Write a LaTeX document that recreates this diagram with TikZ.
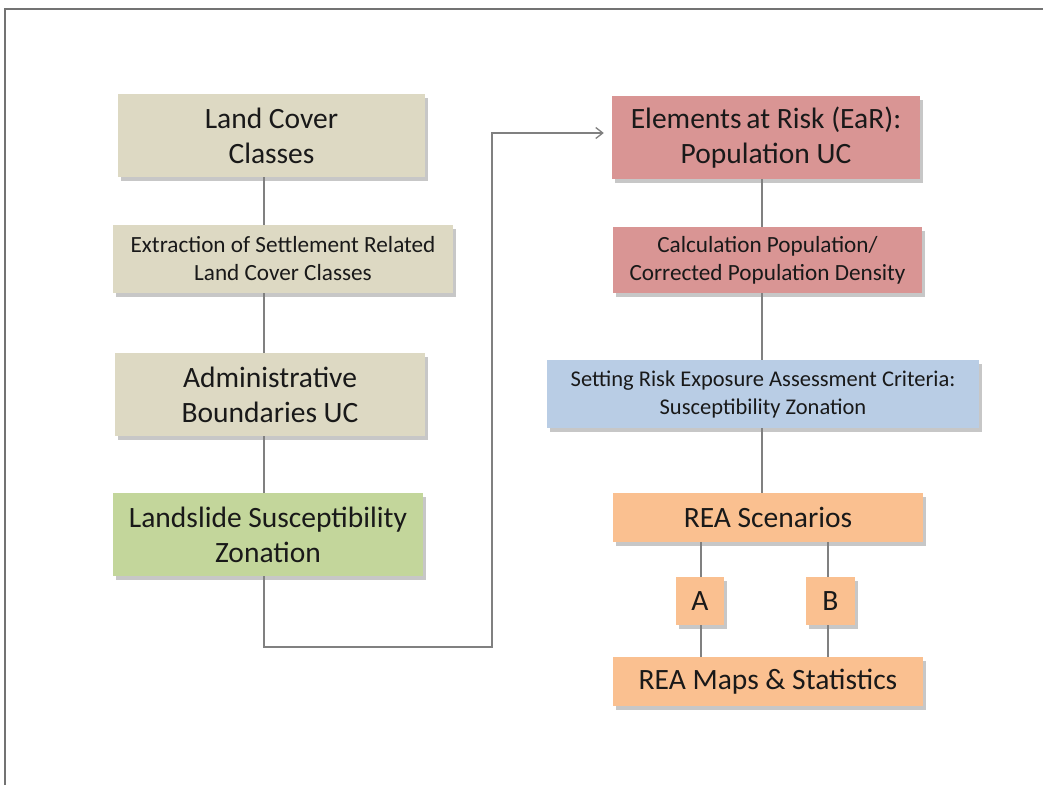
\documentclass[tikz,border=0pt]{standalone}
\usepackage{fontspec}
\setmainfont{Carlito}
\usetikzlibrary{shadows,arrows.meta,calc}
\definecolor{tanc}{HTML}{DDD9C3}
\definecolor{greenc}{HTML}{C3D69B}
\definecolor{redc}{HTML}{D99594}
\definecolor{bluec}{HTML}{B9CDE5}
\definecolor{orangec}{HTML}{FAC090}
\definecolor{linec}{HTML}{808080}
\tikzset{
  box/.style={draw=none, align=center, inner sep=0pt, text=black!90,
    drop shadow={shadow xshift=3pt, shadow yshift=-3.5pt, fill=black!40, opacity=0.55}},
  big/.style={font=\fontsize{29.5}{35}\selectfont},
  small/.style={font=\fontsize{23.2}{28}\selectfont},
  smaller/.style={font=\fontsize{22.5}{28}\selectfont},
  conn/.style={draw=linec, line width=1.3pt},
}
\begin{document}
\begin{tikzpicture}[x=1pt,y=-1pt]
\useasboundingbox (0,0) rectangle (1043,785);
\fill[white] (0,0) rectangle (1043,785);
\draw[draw=black!55, line width=2.2pt] (5,785) -- (5,9) -- (1043,9);
\coordinate (lx) at (264,0);
\coordinate (rx) at (762,0);
% left column
\node[box, big, fill=tanc, minimum width=307, minimum height=83] (lc) at (271.5,135.5) {Land Cover\\Classes};
\node[box, small, fill=tanc, minimum width=340, minimum height=68] (ex) at (283,259) {Extraction of Settlement Related\\Land Cover Classes};
\node[box, big, fill=tanc, minimum width=310, minimum height=83] (ad) at (270,394.5) {Administrative\\Boundaries UC};
\node[box, big, fill=greenc, minimum width=310, minimum height=83] (ls) at (268,534.5) {Landslide Susceptibility\\Zonation};
% right column
\node[box, big, fill=redc, minimum width=308, minimum height=83] (el) at (766,137.5) {Elements\,at Risk (EaR):\\Population UC};
\node[box, small, fill=redc, minimum width=309, minimum height=66] (ca) at (767.5,260) {Calculation Population/\\Corrected Population Density};
\node[box, smaller, fill=bluec, minimum width=432, minimum height=68] (se) at (763,394) {Setting Risk Exposure Assessment Criteria:\\Susceptibility Zonation};
\node[box, big, fill=orangec, minimum width=310, minimum height=49] (sc) at (768,517.5) {REA Scenarios};
\node[box, big, fill=orangec, minimum width=48, minimum height=48] (a) at (700,601) {A};
\node[box, big, fill=orangec, minimum width=49, minimum height=48] (b) at (830.5,601) {B};
\node[box, big, fill=orangec, minimum width=310, minimum height=49] (mp) at (768,681.5) {REA Maps \& Statistics};
\coordinate (ax) at (701,0);
\coordinate (bx) at (828,0);
% connectors
\draw[conn] (lc.south -| lx) -- (ex.north -| lx);
\draw[conn] (ex.south -| lx) -- (ad.north -| lx);
\draw[conn] (ad.south -| lx) -- (ls.north -| lx);
\coordinate (c1) at (264,647);
\coordinate (c2) at (492,647);
\coordinate (c3) at (492,133);
\draw[conn, -{Straight Barb[length=7pt, width=11pt, line width=1.3pt]}] (ls.south -| lx) -- (c1) -- (c2) -- (c3) -- ($(el.west |- c3)+(-8,0)$);
\draw[conn] (el.south -| rx) -- (ca.north -| rx);
\draw[conn] (ca.south -| rx) -- (se.north -| rx);
\draw[conn] (se.south -| rx) -- (sc.north -| rx);
\draw[conn] (sc.south -| ax) -- (a.north -| ax);
\draw[conn] (sc.south -| bx) -- (b.north -| bx);
\draw[conn] (a.south -| ax) -- (mp.north -| ax);
\draw[conn] (b.south -| bx) -- (mp.north -| bx);
\end{tikzpicture}
\end{document}
